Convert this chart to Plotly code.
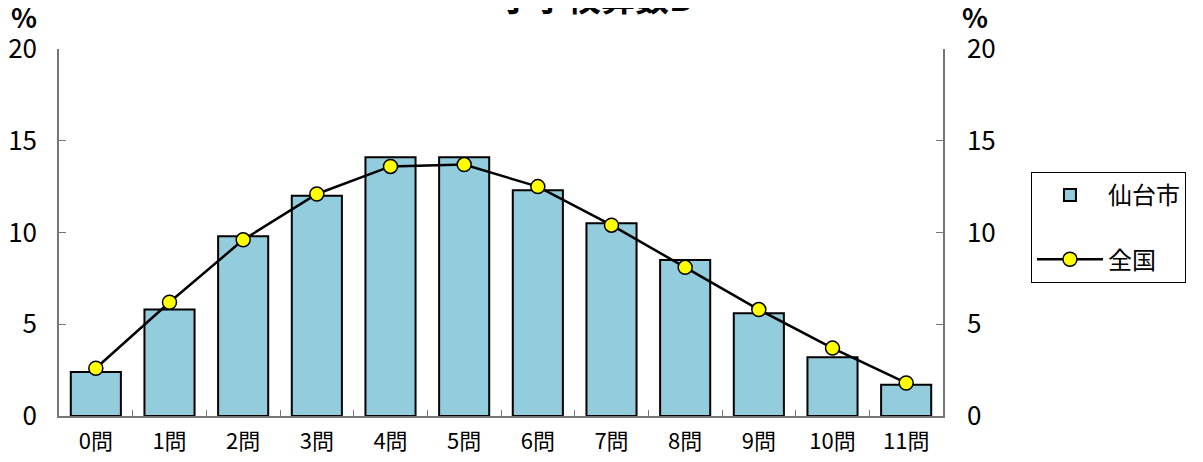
import plotly.graph_objects as go

categories = ["0問", "1問", "2問", "3問", "4問", "5問", "6問", "7問", "8問", "9問", "10問", "11問"]
sendai = [2.4, 5.8, 9.8, 12.0, 14.1, 14.1, 12.3, 10.5, 8.5, 5.6, 3.2, 1.7]
zenkoku = [2.6, 6.2, 9.6, 12.1, 13.6, 13.7, 12.5, 10.4, 8.1, 5.8, 3.7, 1.8]
y_ticks = [0, 5, 10, 15, 20]
title_text = "小学校算数B"

FONT = "Noto Sans CJK JP"

fig = go.Figure()
fig.add_trace(go.Bar(
    x=categories, y=sendai, name="仙台市",
    marker=dict(color="#93CDDD", line=dict(color="#000000", width=2)),
    legendgroup="a",
))
fig.add_trace(go.Scatter(
    x=categories, y=zenkoku, name="全国", mode="lines+markers",
    line=dict(color="#000000", width=2.5),
    marker=dict(color="#FFFF00", size=14, line=dict(color="#000000", width=1.5)),
    legendgroup="b",
))
# invisible trace to host right axis
fig.add_trace(go.Scatter(x=categories, y=zenkoku, yaxis="y2", mode="none",
                         showlegend=False, hoverinfo="skip"))

axis_color = "#777777"
fig.update_layout(
    width=1203, height=462,
    margin=dict(l=51, r=268, t=41, b=54, autoexpand=False),
    paper_bgcolor="white", plot_bgcolor="white",
    bargap=0.32,
    font=dict(family=FONT, color="#000000"),
    showlegend=True,
    legend=dict(
        x=1.0995, y=0.665, xanchor="left", yanchor="top",
        bordercolor="#000000", borderwidth=1, bgcolor="white",
        font=dict(size=24, family=FONT),
        itemwidth=66, tracegroupgap=30, traceorder="grouped",
    ),
    xaxis=dict(
        type="category", range=[-0.5, len(categories) - 0.5],
        showline=True, linecolor=axis_color, linewidth=1.5,
        ticks="inside", tickson="boundaries", ticklen=6, tickcolor=axis_color,
        tickfont=dict(size=22, family=FONT), showgrid=False, zeroline=False,
        ticklabelstandoff=5, automargin=False,
    ),
    yaxis=dict(
        range=[0, 20], tickvals=y_ticks, showline=True, linecolor=axis_color, linewidth=1.5,
        ticks="inside", ticklen=7, tickcolor=axis_color, showgrid=False, zeroline=False,
        tickfont=dict(size=26, family=FONT), ticklabelstandoff=15, automargin=False,
    ),
    yaxis2=dict(
        range=[0, 20], tickvals=y_ticks, overlaying="y", side="right",
        showline=True, linecolor=axis_color, linewidth=1.5,
        ticks="inside", ticklen=7, tickcolor=axis_color, showgrid=False, zeroline=False,
        tickfont=dict(size=26, family=FONT), ticklabelstandoff=17, automargin=False,
    ),
    annotations=[
        dict(text="<b>%</b>", xref="paper", yref="paper", x=-0.0396, y=1.03, xanchor="center",
             yanchor="bottom", showarrow=False, font=dict(size=27, family=FONT)),
        dict(text="<b>%</b>", xref="paper", yref="paper", x=1.036, y=1.03, xanchor="center",
             yanchor="bottom", showarrow=False, font=dict(size=27, family=FONT)),
        dict(text="<b>" + title_text + "</b>", xref="paper", yref="paper", x=0.607, y=1.071,
             xanchor="center", yanchor="bottom", showarrow=False,
             font=dict(size=34, family=FONT)),
    ],
)

fig.write_html("out.html")
